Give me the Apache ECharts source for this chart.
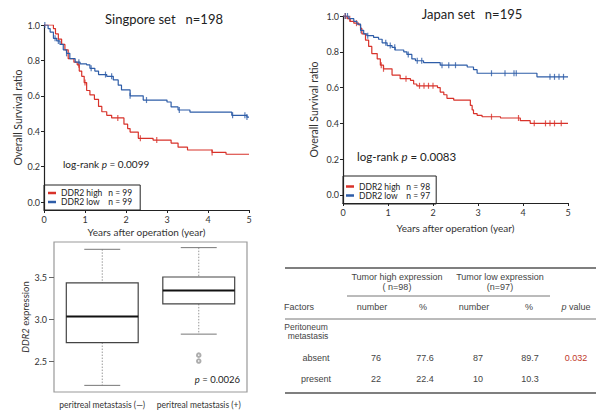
<!DOCTYPE html>
<html>
<head>
<meta charset="utf-8">
<script src="https://cdn.jsdelivr.net/npm/echarts@6/dist/echarts.min.js"></script>
<style>
  html, body { margin: 0; padding: 0; background: #fff; }
  #chart { width: 596px; height: 411px; }
</style>
</head>
<body>
<div id="chart"></div>
<script>
// Kaplan-Meier steps, [years, survival]
const sgHigh = [[0,1],[0.23,0.98],[0.28,0.95],[0.35,0.92],[0.43,0.89],[0.51,0.86],[0.59,0.81],[0.73,0.79],[0.81,0.775],[0.86,0.74],[0.92,0.71],[0.98,0.675],[1.04,0.63],[1.12,0.605],[1.23,0.58],[1.33,0.54],[1.41,0.51],[1.53,0.49],[1.65,0.475],[1.95,0.44],[2.04,0.415],[2.1,0.395],[2.3,0.36],[2.66,0.35],[3.1,0.333],[3.27,0.31],[3.5,0.294],[4.1,0.28],[4.44,0.27],[5,0.27]];
const sgLow = [[0,1],[0.1,0.98],[0.15,0.96],[0.23,0.925],[0.31,0.91],[0.39,0.89],[0.47,0.86],[0.55,0.84],[0.63,0.81],[0.76,0.79],[0.88,0.78],[1.04,0.775],[1.12,0.755],[1.24,0.74],[1.33,0.72],[1.53,0.71],[1.69,0.69],[1.81,0.66],[1.89,0.633],[2.1,0.6],[2.42,0.576],[3.0,0.565],[3.1,0.537],[3.27,0.52],[3.56,0.508],[4.58,0.49],[4.95,0.48],[5,0.48]];
const jpHigh = [[0,1],[0.09,0.985],[0.16,0.97],[0.24,0.96],[0.35,0.95],[0.39,0.93],[0.42,0.9],[0.5,0.865],[0.57,0.83],[0.64,0.79],[0.76,0.76],[0.83,0.725],[0.9,0.705],[1.09,0.67],[1.27,0.65],[1.5,0.64],[1.57,0.62],[1.64,0.61],[2.1,0.6],[2.16,0.575],[2.24,0.56],[2.31,0.54],[2.46,0.53],[2.83,0.5],[2.87,0.475],[2.9,0.455],[2.98,0.445],[3.09,0.437],[3.5,0.43],[3.94,0.415],[4.16,0.4],[5,0.4]];
const jpLow = [[0,1],[0.13,0.985],[0.24,0.97],[0.31,0.955],[0.39,0.92],[0.46,0.9],[0.53,0.89],[0.68,0.88],[0.79,0.87],[0.87,0.85],[0.98,0.835],[1.09,0.825],[1.16,0.81],[1.35,0.8],[1.42,0.785],[1.53,0.76],[1.61,0.75],[1.79,0.74],[2.16,0.725],[2.76,0.715],[2.9,0.7],[2.98,0.68],[4.31,0.66],[5,0.66]];

// censoring times (years)
const sgHighCens = [0.85, 1.0, 1.8, 2.35, 2.75, 4.1];
const sgLowCens = [0.02, 0.27, 0.35, 0.55, 0.85, 1.15, 1.5, 1.65, 2.1, 2.5, 3.3, 4.6, 4.9, 4.95];
const jpHighCens = [0.05, 0.15, 0.3, 0.85, 0.9, 1.4, 1.7, 1.8, 1.9, 2.0, 3.3, 3.9, 4.25, 4.5, 4.6, 4.7, 4.85];
const jpLowCens = [0.05, 0.1, 0.4, 0.55, 0.95, 1.05, 1.15, 1.45, 1.65, 1.75, 2.2, 2.35, 2.5, 3.3, 3.6, 3.8, 3.85, 4.6, 4.7, 4.8, 4.9];

const sgCounts = [99, 99];
const jpCounts = [98, 97];
const yTicks = [0, 0.2, 0.4, 0.6, 0.8, 1.0];

// boxplot: [min, Q1, median, Q3, max]
const boxCats = ['peritreal metastasis (\u2014)', 'peritreal metastasis (+)'];
const boxStats = [[2.21, 2.72, 3.03, 3.43, 3.83], [2.82, 3.18, 3.34, 3.50, 3.85]];
const boxOutliers = [[1, 2.57], [1, 2.50]];
const boxTicks = [2.5, 3.0, 3.5];

// table
const tabGroups = ['Tumor high expression', 'Tumor low expression'];
const tabGroupN = ['( n=98)', '(n=97)'];
const tabHeads = ['number', '%', 'number', '%', 'p value'];
const tabRowNames = ['absent', 'present'];
const tabRows = [['76', '77.6', '87', '89.7', '0.032'], ['22', '22.4', '10', '10.3', '']];

const RED = '#d8322a', BLUE = '#2e5da8';

function censorPoints(curve, times) {
  return times.map(t => {
    let v = curve[0][1];
    for (const p of curve) if (p[0] <= t) v = p[1];
    return [t, v];
  });
}

function kmAxes(idx) {
  return {
    x: {
      type: 'value', gridIndex: idx, min: 0, max: 5, interval: 1,
      name: 'Years after operation (year)', nameLocation: 'middle', nameGap: idx === 0 ? 17 : 20,
      nameTextStyle: { fontSize: 10, color: '#333' },
      axisLine: { onZero: false, lineStyle: { color: '#222', width: 1.2 } },
      axisTick: { length: 3, lineStyle: { color: '#222' } },
      axisLabel: { fontSize: 9, color: '#333', margin: 5 },
      splitLine: { show: false }
    },
    y: {
      type: 'value', gridIndex: idx, min: -0.045, max: 1,
      name: 'Overall Survival ratio', nameLocation: 'middle', nameGap: idx === 0 ? 20 : 24,
      nameTextStyle: { fontSize: 10.5, color: '#333' },
      axisLine: { show: true, lineStyle: { color: '#222', width: 1.2 } },
      axisTick: { show: true, length: 3, customValues: yTicks, lineStyle: { color: '#222' } },
      axisLabel: { fontSize: 9, color: '#333', margin: 4, customValues: yTicks, formatter: v => v.toFixed(1) },
      splitLine: { show: false }
    }
  };
}

function kmSeries(idx, name, curve, cens, color) {
  return [
    {
      type: 'line', name, xAxisIndex: idx, yAxisIndex: idx, data: curve, step: 'end',
      showSymbol: false, lineStyle: { color, width: 1.2 }, itemStyle: { color }, animation: false
    },
    {
      type: 'scatter', name, xAxisIndex: idx, yAxisIndex: idx, data: censorPoints(curve, cens),
      symbol: 'rect', symbolSize: [1.2, 6], itemStyle: { color }, animation: false
    }
  ];
}

function kmLegend(idx, names, counts, pos) {
  return {
    orient: 'vertical', left: pos.left, top: pos.top,
    data: names, icon: 'rect', itemWidth: 8, itemHeight: 2.5, itemGap: 0,
    borderColor: '#222', borderWidth: 1, borderRadius: 0, padding: pos.padding,
    selectedMode: false,
    formatter: name => {
      const i = names.indexOf(name);
      return i === 0
        ? '{h|DDR2 high}{b|n = ' + counts[i] + '}'
        : '{l|DDR2 low}{b|n = ' + counts[i] + '}';
    },
    textStyle: {
      fontSize: 8.5, color: '#222', lineHeight: pos.lh,
      rich: {
        h: { padding: [0, 6, 0, 0], fontSize: 8.5, color: '#222', lineHeight: pos.lh },
        l: { padding: [0, 8.5, 0, 0], fontSize: 8.5, color: '#222', lineHeight: pos.lh },
        b: { fontSize: 8.5, color: '#222', lineHeight: pos.lh }
      }
    }
  };
}

const sg = kmAxes(0), jp = kmAxes(1);

const boxData = boxStats.map((s, i) => [i].concat(s));

const graphics = [];
function txt(x, y, text, o) {
  o = o || {};
  graphics.push({
    type: 'text', silent: true,
    style: Object.assign({
      x, y, text, fontSize: 9, fill: '#333', fontFamily: 'Lato',
      align: o.align || 'left', textAlign: o.align || 'left',
      verticalAlign: 'middle', textVerticalAlign: 'middle'
    }, o.style || {})
  });
}
function hline(x1, x2, y, w, c) {
  graphics.push({ type: 'line', silent: true, shape: { x1, y1: y, x2, y2: y }, style: { stroke: c || '#666', lineWidth: w || 1 } });
}

// titles and annotations
txt(164, 19, 'Singpore set   n=198', { align: 'center', style: { fontSize: 13, fill: '#222' } });
txt(472, 14, 'Japan set   n=195', { align: 'center', style: { fontSize: 13, fill: '#222' } });
txt(63, 164, '{t|log-rank }{i|p}{t| = 0.0099}', { style: {
  rich: { t: { fontSize: 10, fill: '#222', fontFamily: 'Lato' }, i: { fontSize: 10, fontStyle: 'italic', fill: '#222', fontFamily: 'Lato' } } } });
txt(357, 156, '{t|log-rank }{i|p}{t| = 0.0083}', { style: {
  rich: { t: { fontSize: 11.5, fill: '#222', fontFamily: 'Lato' }, i: { fontSize: 11.5, fontStyle: 'italic', fill: '#222', fontFamily: 'Lato' } } } });
txt(240, 379, '{i|p}{t| = 0.0026}', { align: 'right', style: {
  rich: { t: { fontSize: 9.5, fill: '#222', fontFamily: 'Lato' }, i: { fontSize: 9.5, fontStyle: 'italic', fill: '#222', fontFamily: 'Lato' } } } });

// table
const TF = 'Liberation Sans';
const groupX = [397, 500];
const headX = [372, 423, 474, 529, 576];
const valX = [376, 425, 478, 530, 576];
hline(285, 596, 268, 1.3, '#555');
tabGroups.forEach((g, i) => {
  txt(groupX[i], 277, g, { align: 'center', style: { fontFamily: TF, fontSize: 9, fill: '#444' } });
  txt(groupX[i], 287, tabGroupN[i], { align: 'center', style: { fontFamily: TF, fontSize: 9, fill: '#444' } });
});
hline(347, 550, 296, 1, '#777');
txt(284, 307, 'Factors', { style: { fontFamily: TF, fontSize: 9, fill: '#444' } });
tabHeads.forEach((h, i) => {
  if (h === 'p value') {
    txt(headX[i], 307, '{i|p} value', { align: 'center', style: { fontFamily: TF, fontSize: 9, fill: '#444',
      rich: { i: { fontStyle: 'italic', fontFamily: TF, fontSize: 9, fill: '#444' } } } });
  } else {
    txt(headX[i], 307, h, { align: 'center', style: { fontFamily: TF, fontSize: 9, fill: '#444' } });
  }
});
hline(285, 596, 319, 1, '#777');
txt(306, 327, 'Peritoneum', { align: 'center', style: { fontFamily: TF, fontSize: 8.5, fill: '#444' } });
txt(308, 336, 'metastasis', { align: 'center', style: { fontFamily: TF, fontSize: 8.5, fill: '#444' } });
const rowY = [358, 379];
tabRowNames.forEach((r, j) => {
  txt(316, rowY[j], r, { align: 'center', style: { fontFamily: TF, fontSize: 9, fill: '#444' } });
  tabRows[j].forEach((v, i) => {
    txt(valX[i], rowY[j], v, { align: 'center', style: { fontFamily: TF, fontSize: 9, fill: i === 4 ? '#c0392b' : '#444' } });
  });
});
hline(285, 596, 393, 1.3, '#555');

const option = {
  animation: false,
  textStyle: { fontFamily: 'Lato' },
  grid: [
    { left: 44, top: 25, width: 205, height: 185 },
    { left: 343, top: 16, width: 225, height: 187 },
    { left: 54, top: 242, width: 193, height: 150, show: true, borderColor: '#999', borderWidth: 1.2, backgroundColor: 'transparent' }
  ],
  xAxis: [
    sg.x, jp.x,
    {
      type: 'category', gridIndex: 2, data: boxCats,
      axisLine: { show: false }, axisTick: { show: false },
      axisLabel: { fontSize: 8.5, color: '#333', margin: 8, interval: 0 }
    }
  ],
  yAxis: [
    sg.y, jp.y,
    {
      type: 'value', gridIndex: 2, min: 2.131, max: 3.917,
      name: '{i|DDR2} expression', nameLocation: 'middle', nameGap: 23,
      nameTextStyle: { fontSize: 9.5, color: '#333', rich: { i: { fontStyle: 'italic', fontSize: 9.5, color: '#333' } } },
      axisLine: { show: false },
      axisTick: { show: true, length: 5, customValues: boxTicks, lineStyle: { color: '#666' } },
      axisLabel: { fontSize: 9, color: '#333', margin: 7, customValues: boxTicks, formatter: v => v.toFixed(1) },
      splitLine: { show: false }
    }
  ],
  legend: [
    kmLegend(0, ['sgHigh', 'sgLow'], sgCounts, { left: 44, top: 185, padding: [3.5, 8, 3.5, 4], lh: 9 }),
    kmLegend(1, ['jpHigh', 'jpLow'], jpCounts, { left: 343, top: 176, padding: [6, 6, 4, 3], lh: 8 })
  ],
  series: [
    ...kmSeries(0, 'sgHigh', sgHigh, sgHighCens, RED),
    ...kmSeries(0, 'sgLow', sgLow, sgLowCens, BLUE),
    ...kmSeries(1, 'jpHigh', jpHigh, jpHighCens, RED),
    ...kmSeries(1, 'jpLow', jpLow, jpLowCens, BLUE),
    {
      type: 'custom', xAxisIndex: 2, yAxisIndex: 2, data: boxData,
      renderItem: (params, api) => {
        const i = api.value(0);
        const bw = api.size([1, 0])[0] * 0.745;
        const cx = api.coord([i, 3])[0];
        const y = k => api.coord([i, api.value(k)])[1];
        const lo = y(1), q1 = y(2), med = y(3), q3 = y(4), hi = y(5);
        const dash = { stroke: '#999', lineWidth: 1, lineDash: [1.5, 1.5] };
        const cap = { stroke: '#777', lineWidth: 1 };
        return {
          type: 'group',
          children: [
            { type: 'line', shape: { x1: cx, y1: hi, x2: cx, y2: q3 }, style: dash },
            { type: 'line', shape: { x1: cx, y1: q1, x2: cx, y2: lo }, style: dash },
            { type: 'line', shape: { x1: cx - bw / 4, y1: hi, x2: cx + bw / 4, y2: hi }, style: cap },
            { type: 'line', shape: { x1: cx - bw / 4, y1: lo, x2: cx + bw / 4, y2: lo }, style: cap },
            { type: 'rect', shape: { x: cx - bw / 2, y: q3, width: bw, height: q1 - q3 }, style: { fill: '#fff', stroke: '#444', lineWidth: 1.2 } },
            { type: 'line', shape: { x1: cx - bw / 2, y1: med, x2: cx + bw / 2, y2: med }, style: { stroke: '#111', lineWidth: 2 } }
          ]
        };
      }
    },
    {
      type: 'scatter', xAxisIndex: 2, yAxisIndex: 2, data: boxOutliers,
      symbol: 'emptyCircle', symbolSize: 3.5, itemStyle: { color: '#999', borderWidth: 1 }
    }
  ],
  graphic: graphics
};

const chart = echarts.init(document.getElementById('chart'), null, { renderer: 'svg' });
chart.setOption(option);
</script>
</body>
</html>
